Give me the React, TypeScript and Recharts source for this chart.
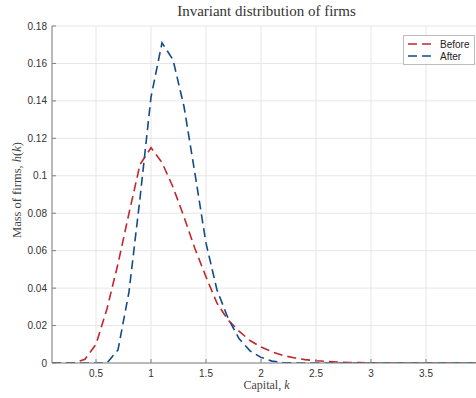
import React from 'react';
import { LineChart, Line, XAxis, YAxis, CartesianGrid } from 'recharts';

// capital grid k
const capital = [
  0.1, 0.2, 0.3, 0.4, 0.5, 0.6, 0.7, 0.8, 0.9, 1.0,
  1.1, 1.2, 1.3, 1.4, 1.5, 1.6, 1.7, 1.8, 1.9, 2.0,
  2.1, 2.2, 2.3, 2.4, 2.5, 2.6, 2.7, 2.8, 2.9, 3.0,
  3.1, 3.2, 3.3, 3.4, 3.5, 3.6, 3.7, 3.8, 3.9, 4.0,
];

// mass of firms h(k)
const before = [
  0, 0, 0, 0.002, 0.010, 0.029, 0.053, 0.080, 0.106, 0.115,
  0.107, 0.094, 0.078, 0.061, 0.046, 0.032, 0.023, 0.017, 0.012, 0.0085,
  0.006, 0.004, 0.0028, 0.0018, 0.0012, 0.0008, 0.0005, 0.0003, 0.0002, 0.0001,
  0, 0, 0, 0, 0, 0, 0, 0, 0, 0,
];

const after = [
  0, 0, 0, 0, 0, 0, 0.007, 0.038, 0.088, 0.142,
  0.171, 0.162, 0.137, 0.101, 0.064, 0.039, 0.024, 0.013, 0.0065, 0.003,
  0.001, 0.0003, 0, 0, 0, 0, 0, 0, 0, 0,
  0, 0, 0, 0, 0, 0, 0, 0, 0, 0,
];

const xTicks = [0.5, 1, 1.5, 2, 2.5, 3, 3.5];
const yTicks = [0, 0.02, 0.04, 0.06, 0.08, 0.1, 0.12, 0.14, 0.16, 0.18];

const RED = '#c1272d';
const BLUE = '#134b8a';
const SERIF = '"Liberation Serif", "Times New Roman", serif';
const SANS = '"Liberation Sans", Arial, sans-serif';

const rows = capital.map((k, i) => ({ k, before: before[i], after: after[i] }));

const series = [
  { key: 'before', name: 'Before', color: RED },
  { key: 'after', name: 'After', color: BLUE },
];

function LegendBox() {
  return (
    <div
      style={{
        position: 'absolute',
        left: 403,
        top: 35,
        width: 66,
        background: '#fff',
        border: '1px solid #bdbdbd',
        padding: '2px 0 2px 4px',
        fontFamily: SANS,
        fontSize: 10,
        color: '#222',
      }}
    >
      {series.map((s) => (
        <div key={s.key} style={{ display: 'flex', alignItems: 'center', height: 12 }}>
          <svg width={26} height={6} style={{ marginRight: 6 }}>
            <line x1={0} y1={3} x2={26} y2={3} stroke={s.color} strokeWidth={1.6} strokeDasharray="9 5" />
          </svg>
          <span>{s.name}</span>
        </div>
      ))}
    </div>
  );
}

export default function App() {
  return (
    <div style={{ position: 'absolute', left: 0, top: 0, width: 476, height: 398, overflow: 'hidden', background: '#fff' }}>
      <LineChart width={486} height={398} data={rows} margin={{ top: 26, right: 5, left: 0, bottom: 0 }}>
        <CartesianGrid stroke="#e6e6e6" />
        <XAxis
          dataKey="k"
          type="number"
          domain={[0.1, 4]}
          ticks={xTicks}
          height={35}
          axisLine={{ stroke: '#808080' }}
          tickLine={{ stroke: '#808080' }}
          tickSize={-4}
          tickMargin={11}
          tick={{ fill: '#333', fontSize: 10, fontFamily: SANS }}
          allowDataOverflow
        />
        <YAxis
          type="number"
          domain={[0, 0.18]}
          ticks={yTicks}
          width={52}
          axisLine={{ stroke: '#808080' }}
          tickLine={{ stroke: '#808080' }}
          tickSize={-4}
          tickMargin={9}
          tick={{ fill: '#333', fontSize: 10, fontFamily: SANS }}
          tickFormatter={(v: number) => String(+v.toFixed(2))}
          allowDataOverflow
        />
        {series.map((s) => (
          <Line
            key={s.key}
            type="linear"
            dataKey={s.key}
            name={s.name}
            stroke={s.color}
            strokeWidth={1.6}
            strokeDasharray="9 5"
            dot={false}
            activeDot={false}
            isAnimationActive={false}
          />
        ))}
      </LineChart>

      <div
        style={{
          position: 'absolute',
          left: 0,
          top: 3,
          width: 533,
          textAlign: 'center',
          fontFamily: SERIF,
          fontSize: 15,
          color: '#333',
        }}
      >
        Invariant distribution of firms
      </div>

      <div
        style={{
          position: 'absolute',
          left: 0,
          top: 378,
          width: 533,
          textAlign: 'center',
          fontFamily: SERIF,
          fontSize: 12,
          color: '#444',
        }}
      >
        Capital, <i>k</i>
      </div>

      <div
        style={{
          position: 'absolute',
          left: 17,
          top: 190,
          transform: 'translate(-50%, -50%) rotate(-90deg)',
          whiteSpace: 'nowrap',
          fontFamily: SERIF,
          fontSize: 12.5,
          color: '#444',
        }}
      >
        Mass of firms, <i>h</i>(<i>k</i>)
      </div>

      <LegendBox />
    </div>
  );
}
